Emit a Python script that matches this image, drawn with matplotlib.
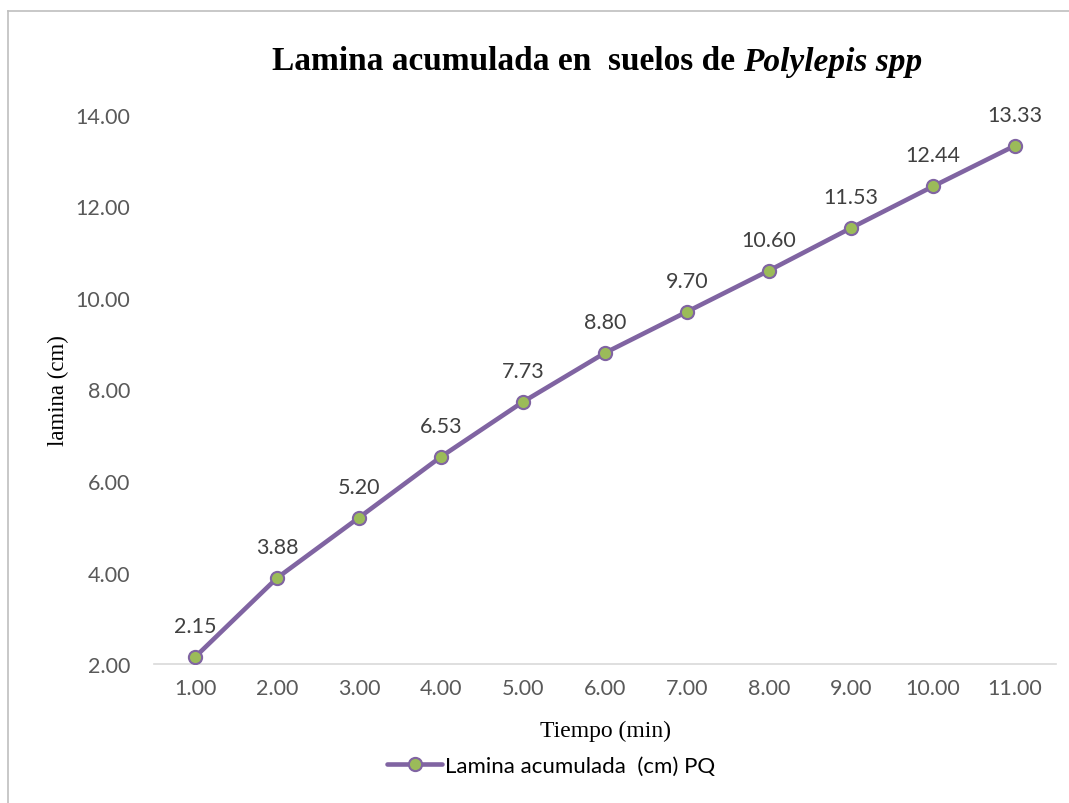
import matplotlib
matplotlib.use("Agg")
import matplotlib.pyplot as plt
from matplotlib.lines import Line2D

tiempo = [1.0, 2.0, 3.0, 4.0, 5.0, 6.0, 7.0, 8.0, 9.0, 10.0, 11.0]
lamina = [2.15, 3.88, 5.20, 6.53, 7.73, 8.80, 9.70, 10.60, 11.53, 12.44, 13.33]
x_labels = [f"{t:.2f}" for t in tiempo]
y_ticks = [2, 4, 6, 8, 10, 12, 14]

PURPLE = "#8064A2"
GREEN = "#9BBB59"
TICK = "#595959"
LABEL = "#404040"
SANS = ["Lato", "DejaVu Sans"]
SERIF = ["Liberation Serif", "DejaVu Serif"]
FS = 15.5

W, H = 1069, 804
fig = plt.figure(figsize=(W / 100, H / 100), dpi=100)
ax = fig.add_axes([154 / W, 1 - 665 / H, 902 / W, (665 - 116) / H])

pos = list(range(len(tiempo)))
ax.plot(pos, lamina, color=PURPLE, lw=3.3, marker="o", markersize=9.5,
        markerfacecolor=GREEN, markeredgecolor=PURPLE, markeredgewidth=1.5,
        solid_capstyle="round", label="Lamina acumulada  (cm) PQ", zorder=3)

for p, v in zip(pos, lamina):
    ax.annotate(f"{v:.2f}", (p, v), xytext=(0, 18), textcoords="offset points",
                ha="center", va="baseline", fontsize=FS, color=LABEL, family=SANS)

ax.set_xlim(-0.5, len(tiempo) - 0.5)
ax.set_ylim(2, 14)
ax.set_xticks(pos)
ax.set_xticklabels(x_labels)
ax.set_yticks(y_ticks)
ax.set_yticklabels([f"{y:.2f}" for y in y_ticks])
for lab in ax.get_xticklabels() + ax.get_yticklabels():
    lab.set_fontfamily(SANS)
    lab.set_fontsize(FS)
    lab.set_color(TICK)
ax.tick_params(axis="both", length=0)
ax.tick_params(axis="y", pad=17)
ax.tick_params(axis="x", pad=10)
for s in ["top", "right", "left"]:
    ax.spines[s].set_visible(False)
ax.spines["bottom"].set_color("#D9D9D9")
ax.spines["bottom"].set_linewidth(1.2)

ax.set_xlabel("Tiempo (min)", fontsize=17, family=SERIF, color="black", labelpad=16)
ax.set_ylabel("lamina (cm)", fontsize=16.5, family=SERIF, color="black", labelpad=5)

leg = ax.legend(loc="center", bbox_to_anchor=(0.44, -0.185), frameon=False,
                prop={"family": SANS, "size": 16}, handlelength=2.5,
                handletextpad=0.1, borderaxespad=0)

# chart border (left and top visible)
fig.add_artist(Line2D([8 / W, 8 / W], [0, 1 - 12 / H], color="#BFBFBF", lw=1.2,
                      transform=fig.transFigure))
fig.add_artist(Line2D([8 / W, 1], [1 - 12 / H, 1 - 12 / H], color="#BFBFBF", lw=1.2,
                      transform=fig.transFigure))

# title with italic part
t1 = fig.text(272 / W, 1 - 62 / H, "Lamina acumulada en  suelos de ", fontsize=24,
              fontweight="bold", family=SERIF, va="center", ha="left")
fig.canvas.draw()
bb = t1.get_window_extent()
fig.text(bb.x1 / W, 1 - 62 / H, "Polylepis spp", fontsize=24, fontweight="bold",
         fontstyle="italic", family=SERIF, va="center", ha="left")

fig.savefig("out.png", dpi=100)
